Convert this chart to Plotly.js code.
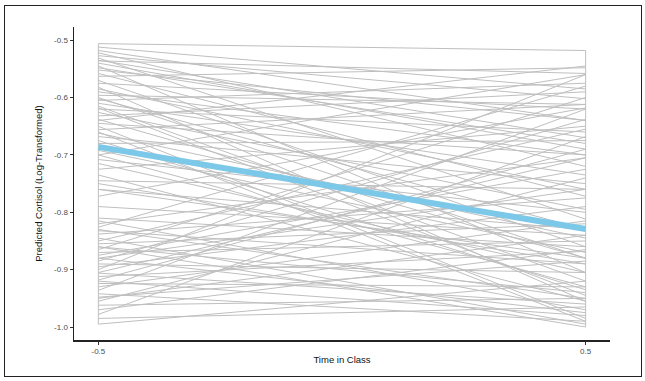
<!DOCTYPE html>
<html><head><meta charset="utf-8">
<script src="https://cdn.plot.ly/plotly-3.0.1.min.js"></script>
<style>html,body{margin:0;padding:0;background:#fff;}#wrap{position:relative;width:645px;height:381px;}#frame{position:absolute;left:4px;top:5px;width:636px;height:370px;border:1.5px solid #222;pointer-events:none;}</style>
</head><body><div id="wrap"><div id="chart" style="width:645px;height:381px;"></div><div id="frame"></div></div>
<script>
const timePoints = [-0.5, 0.5];
const startValues = [-0.512,-0.518,-0.522,-0.527,-0.531,-0.536,-0.540,-0.545,-0.552,-0.558,-0.563,-0.570,-0.575,-0.582,-0.590,-0.596,-0.602,-0.605,-0.610,-0.615,-0.620,-0.626,-0.632,-0.638,-0.645,-0.650,-0.656,-0.662,-0.668,-0.675,-0.680,-0.692,-0.700,-0.708,-0.715,-0.725,-0.735,-0.745,-0.760,-0.772,-0.790,-0.815,-0.820,-0.826,-0.832,-0.838,-0.845,-0.850,-0.855,-0.860,-0.865,-0.870,-0.875,-0.880,-0.885,-0.890,-0.895,-0.900,-0.906,-0.912,-0.918,-0.924,-0.930,-0.936,-0.942,-0.948,-0.955,-0.962,-0.970,-0.978,-0.985,-0.995,-0.548,-0.600,-0.640,-0.700,-0.760,-0.830,-0.880,-0.920,-0.506,-0.585,-0.660,-0.750,-0.810,-0.860,-0.950,-0.535,-0.618,-0.905];
const endValues = [-0.585,-0.640,-0.720,-0.602,-0.812,-0.558,-0.690,-0.905,-0.640,-0.772,-0.548,-0.860,-0.620,-0.955,-0.700,-0.612,-0.830,-0.575,-0.735,-0.920,-0.660,-0.795,-0.590,-0.880,-0.700,-0.985,-0.612,-0.845,-0.750,-0.935,-0.675,-0.870,-0.560,-0.800,-0.905,-0.650,-0.955,-0.760,-0.880,-0.618,-0.840,-0.970,-0.705,-0.580,-0.890,-0.775,-0.995,-0.655,-0.820,-0.940,-0.600,-0.850,-0.725,-0.975,-0.638,-0.905,-0.790,-0.560,-0.960,-0.868,-0.690,-0.930,-0.815,-0.620,-0.990,-0.885,-0.740,-0.950,-0.865,-0.668,-0.965,-0.920,-0.680,-0.880,-0.545,-0.930,-0.830,-0.950,-0.760,-0.980,-0.518,-0.760,-0.990,-0.890,-0.860,-1.000,-0.840,-0.670,-0.945,-0.705];
const meanLine = [-0.686, -0.829];
const yTicks = [-0.5,-0.6,-0.7,-0.8,-0.9,-1.0];
const yTickText = ['-0.5','-0.6','-0.7','-0.8','-0.9','-1.0'];
const xTicks = [-0.5, 0.5];
const xTickText = ['-0.5','0.5'];

const gx = [], gy = [];
for (let i = 0; i < startValues.length; i++) {
  gx.push(timePoints[0], timePoints[1], null);
  gy.push(startValues[i], endValues[i], null);
}
const grayCol = '#bfbfbf';
const traces = [
  {x: gx, y: gy, mode: 'lines', line: {color: grayCol, width: 1}, hoverinfo: 'skip', connectgaps: false},
  {x: [timePoints[0], timePoints[0]], y: [Math.max(...startValues), Math.min(...startValues)], mode: 'lines', line: {color: grayCol, width: 1}},
  {x: [timePoints[1], timePoints[1]], y: [Math.max(...endValues), Math.min(...endValues)], mode: 'lines', line: {color: grayCol, width: 1}},
  {x: timePoints, y: meanLine, mode: 'lines', line: {color: '#7cc8e8', width: 6}}
];
const axFont = {family: 'Liberation Sans, Arial, sans-serif', size: 8, color: '#4d4d4d'};
const layout = {
  width: 645, height: 381, showlegend: false,
  paper_bgcolor: '#fff', plot_bgcolor: '#fff',
  margin: {l: 73.6, r: 34.6, t: 27, b: 41},
  xaxis: {range: [-0.55, 0.55], tickvals: xTicks, ticktext: xTickText, showgrid: false, zeroline: false,
    showline: true, linecolor: '#222', linewidth: 1.5, ticks: 'outside', ticklen: 3, tickcolor: '#333', tickwidth: 1,
    tickfont: axFont, title: {text: 'Time in Class', font: {family: 'Liberation Sans, Arial, sans-serif', size: 9.5, color: '#111'}, standoff: 1}},
  yaxis: {range: [-1.0226, -0.477], tickvals: yTicks, ticktext: yTickText, showgrid: false, zeroline: false,
    showline: true, linecolor: '#222', linewidth: 1.5, ticks: 'outside', ticklen: 3, tickcolor: '#333', tickwidth: 1,
    tickfont: axFont, title: {text: 'Predicted Cortisol (Log-Transformed)', font: {family: 'Liberation Sans, Arial, sans-serif', size: 9.5, color: '#111'}, standoff: 10}}
};
Plotly.newPlot('chart', traces, layout, {displayModeBar: false, staticPlot: true});
</script></body></html>
